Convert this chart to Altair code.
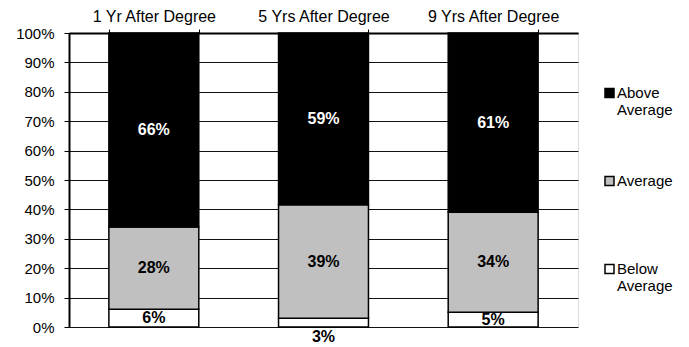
import altair as alt
import pandas as pd

periods = ["1 Yr After Degree", "5 Yrs After Degree", "9 Yrs After Degree"]
levels = ["Above Average", "Average", "Below Average"]
below = [6, 3, 5]
average = [28, 39, 34]
above = [66, 59, 61]
y_ticks = [i / 10 for i in range(11)]

rows = []
for i, p in enumerate(periods):
    for lvl, vals, order in [("Below Average", below, 0), ("Average", average, 1), ("Above Average", above, 2)]:
        rows.append({"period": p, "level": lvl, "value": vals[i], "ord": order})
df = pd.DataFrame(rows)

FONT = "Liberation Sans"

base = alt.Chart(df).transform_joinaggregate(
    total="sum(value)", groupby=["period"]
).transform_calculate(
    frac="datum.value / datum.total"
).transform_window(
    cum="sum(frac)", groupby=["period"], sort=[alt.SortField("ord")], frame=[None, 0]
).transform_calculate(
    y0="datum.cum - datum.frac",
    mid="datum.frac < 0.04 ? -0.035 : datum.cum - datum.frac / 2",
    label="datum.value + '%'",
)

x_axis = alt.Axis(
    orient="top", title=None, labelAngle=0, tickBand="extent",
    labelFont=FONT, labelFontSize=16, labelColor="black", labelPadding=5,
    tickColor="black", tickSize=4, domainColor="black", domainWidth=2,
)
x_scale = alt.Scale(paddingInner=0.47, paddingOuter=0.235)
y_axis = alt.Axis(
    values=y_ticks, format=".0%", title=None, grid=True,
    gridColor="#111", gridWidth=1, labelOverlap=False,
    domainColor="black", domainWidth=2, tickColor="black", tickSize=5,
    labelFont=FONT, labelFontSize=15, labelColor="black", labelPadding=10,
)
y_scale = alt.Scale(domain=[0, 1])

bars = base.mark_bar(stroke="black", strokeWidth=1.5).encode(
    x=alt.X("period:N", sort=periods, scale=x_scale, axis=x_axis),
    y=alt.Y("cum:Q", scale=y_scale, axis=y_axis),
    y2="y0:Q",
    color=alt.Color(
        "level:N",
        scale=alt.Scale(domain=levels, range=["#000000", "#c0c0c0", "#ffffff"]),
        legend=alt.Legend(
            title=None, orient="none", legendX=533, legendY=40,
            symbolType="square", symbolSize=81, symbolStrokeColor="black",
            symbolStrokeWidth=1.5,
            labelExpr="indexof(datum.label, ' ') > 0 ? split(datum.label, ' ') : [datum.label, '']",
            labelFont=FONT, labelFontSize=15, labelColor="black",
            labelBaseline="middle", clipHeight=40, rowPadding=43, labelOffset=0,
        ),
    ),
)

texts = base.mark_text(font=FONT, fontSize=16, fontWeight="bold").encode(
    x=alt.X("period:N", sort=periods, scale=x_scale, axis=x_axis),
    y=alt.Y("mid:Q", scale=y_scale, axis=y_axis),
    text="label:N",
    color=alt.condition(alt.datum.level == "Above Average", alt.value("white"), alt.value("black")),
)

chart = alt.layer(bars, texts).properties(
    width=509, height=294,
    autosize=alt.AutoSizeParams(type="none"),
    padding={"left": 61, "top": 25, "right": 103, "bottom": 20},
).configure_view(stroke="black", strokeWidth=2).configure(background="white")

chart.save("out.html", embed_options={"renderer": "svg", "actions": False})
